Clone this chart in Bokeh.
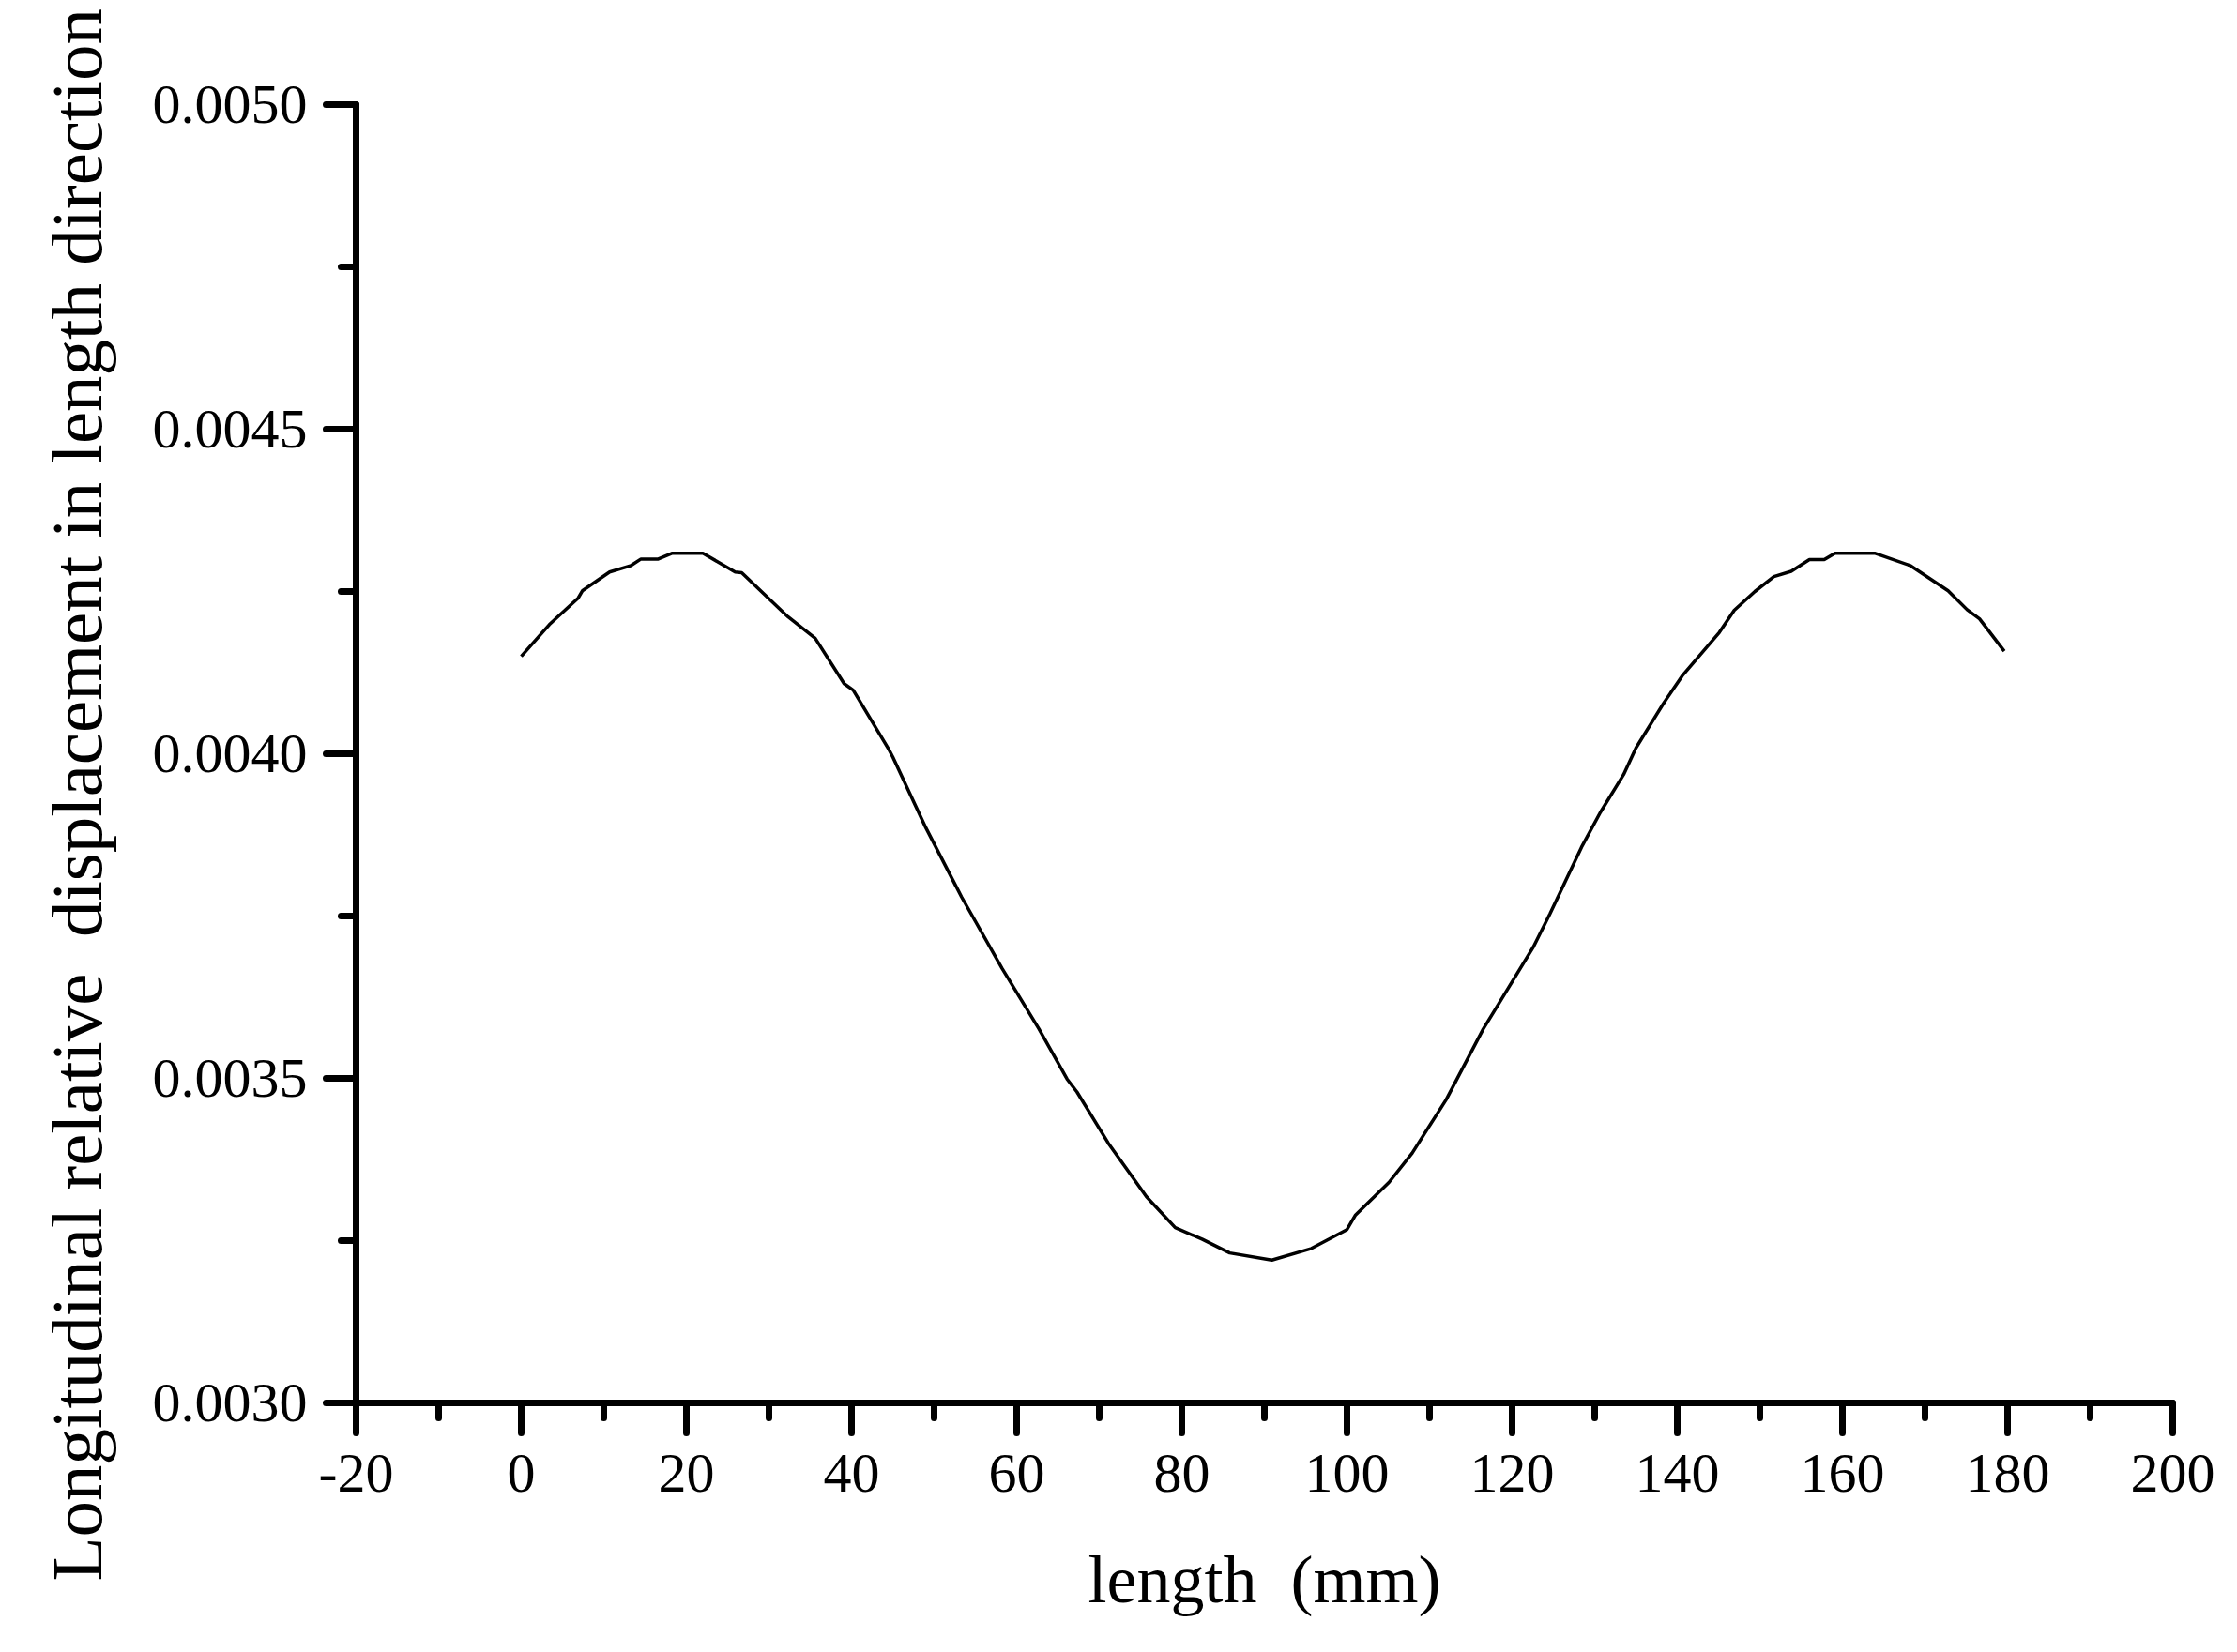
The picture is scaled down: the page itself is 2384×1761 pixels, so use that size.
from bokeh.plotting import figure
from bokeh.models import Range1d, FixedTicker, PrintfTickFormatter, Title
from bokeh.embed import file_html
from bokeh.resources import INLINE

# ---- data ----
length_mm = [0, 3.4, 6.9, 7.4, 10.7, 13.3, 14.5, 16.6, 18.3, 22.0, 25.9, 26.7,
             32.3, 35.6, 39.1, 40.2, 44.5, 45.0, 49.0, 53.3, 58.2, 62.7, 66.1,
             67.3, 71.1, 75.7, 79.2, 82.5, 85.8, 90.9, 95.7, 100.0, 101.0, 105.1,
             107.9, 112.0, 116.5, 118.0, 122.6, 124.6, 128.4, 130.7, 133.5, 135.0,
             138.3, 140.6, 145.1, 146.9, 149.4, 151.7, 153.8, 156.0, 157.8, 159.1,
             163.9, 168.2, 172.8, 175.1, 176.6, 179.6]
displacement = [0.004150, 0.004199, 0.004240, 0.004251, 0.004280, 0.004290, 0.004300,
                0.004300, 0.004309, 0.004309, 0.004280, 0.004279, 0.004211, 0.004178,
                0.004108, 0.004098, 0.004007, 0.003995, 0.003886, 0.003780, 0.003670,
                0.003576, 0.003499, 0.003479, 0.003400, 0.003318, 0.003270, 0.003252,
                0.003231, 0.003220, 0.003238, 0.003267, 0.003289, 0.003340, 0.003385,
                0.003467, 0.003576, 0.003607, 0.003703, 0.003754, 0.003856, 0.003910,
                0.003968, 0.004009, 0.004077, 0.004120, 0.004187, 0.004221, 0.004250,
                0.004273, 0.004281, 0.004299, 0.004299, 0.004309, 0.004309, 0.004290,
                0.004251, 0.004222, 0.004208, 0.004158]

x_major_ticks = [-20, 0, 20, 40, 60, 80, 100, 120, 140, 160, 180, 200]
x_minor_ticks = [-10, 10, 30, 50, 70, 90, 110, 130, 150, 170, 190]
y_major_ticks = [0.0030, 0.0035, 0.0040, 0.0045, 0.0050]
y_minor_ticks = [0.00325, 0.00375, 0.00425, 0.00475]

x_label = "length\u00a0 (mm)"
y_label = "Longitudinal relative\u00a0 displacement in length direction"

FONT = "Liberation Serif"

p = figure(width=2360, height=1740, output_backend="svg", toolbar_location=None,
           x_range=Range1d(-20, 200), y_range=Range1d(0.0030, 0.0050),
           min_border_left=379, min_border_right=45,
           min_border_top=111, min_border_bottom=245)

p.line(length_mm, displacement, line_width=3.5, line_color="black")

p.xgrid.visible = False
p.ygrid.visible = False
p.outline_line_color = None
p.background_fill_color = "white"
p.border_fill_color = "white"

p.xaxis.ticker = FixedTicker(ticks=x_major_ticks, minor_ticks=x_minor_ticks)
p.yaxis.ticker = FixedTicker(ticks=y_major_ticks, minor_ticks=y_minor_ticks)
p.xaxis.formatter = PrintfTickFormatter(format="%d")
p.yaxis.formatter = PrintfTickFormatter(format="%.4f")

for ax in (p.xaxis[0], p.yaxis[0]):
    ax.axis_line_width = 7
    ax.axis_line_color = "black"
    ax.axis_line_cap = "round"
    ax.major_tick_in = 0
    ax.major_tick_out = 32
    ax.major_tick_line_width = 7
    ax.major_tick_line_color = "black"
    ax.major_tick_line_cap = "round"
    ax.minor_tick_in = 0
    ax.minor_tick_out = 16
    ax.minor_tick_line_width = 7
    ax.minor_tick_line_color = "black"
    ax.minor_tick_line_cap = "round"
    ax.major_label_text_font = FONT
    ax.major_label_text_font_size = "60px"
    ax.major_label_text_color = "black"
    ax.axis_label_text_font = FONT
    ax.axis_label_text_font_style = "normal"
    ax.axis_label_text_color = "black"

p.xaxis.axis_label = x_label
p.xaxis.axis_label_text_font_size = "72px"
p.xaxis.major_label_standoff = 23
p.xaxis.axis_label_standoff = 51

p.yaxis.major_label_standoff = 20

# y-axis title: a side title so it can start below the frame bottom as in the reference
p.add_layout(Title(text=y_label, align="left", offset=-190, standoff=70,
                   text_font=FONT, text_font_size="77px", text_font_style="normal",
                   text_color="black"), "left")

open("out.html", "w").write(file_html(p, INLINE))
